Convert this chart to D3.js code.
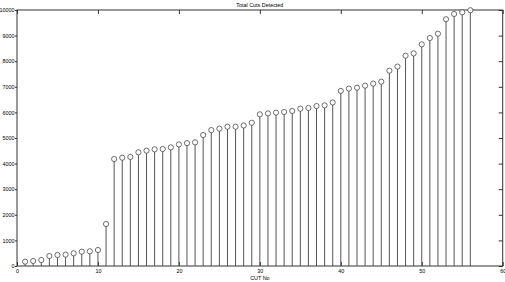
<!DOCTYPE html>
<html>
<head>
<meta charset="utf-8">
<script src="https://cdn.jsdelivr.net/npm/d3@7"></script>
<style>
  body { margin: 0; background: #fff; }
  text { font-family: "Liberation Sans", Arial, sans-serif; fill: #000; }
</style>
</head>
<body>
<div id="chart"></div>
<script>
// cut counts per cut number
const cutNo = d3.range(1, 57);
const cuts = [
  170, 195, 234, 390, 430, 443, 495, 560, 573, 625,
  1640, 4180, 4230, 4260, 4440, 4505, 4557, 4570, 4635, 4750,
  4800, 4830, 5117, 5310, 5365, 5440, 5440, 5490, 5595, 5925,
  5960, 5990, 6015, 6055, 6145, 6170, 6250, 6275, 6390, 6840,
  6930, 6965, 7045, 7125, 7200, 7630, 7790, 8215, 8305, 8660,
  8905, 9075, 9640, 9845, 9910, 9990
];
const xTicks = [0, 10, 20, 30, 40, 50, 60];
const yTicks = d3.range(0, 10001, 1000);

const W = 505, H = 282;
const margin = {top: 10, right: 2.3, bottom: 16, left: 17};
const width = W - margin.left - margin.right,
      height = H - margin.top - margin.bottom;

const svg = d3.select('#chart')
    .append('svg')
    .attr('width', W)
    .attr('height', H)
    .append('g')
    .attr('transform', `translate(${margin.left},${margin.top})`);

const x = d3.scaleLinear().domain([0, 60]).range([0, width]);
const y = d3.scaleLinear().domain([0, 10000]).range([height, 0]);

const axisColor = '#333';
const fs = 5.4;

// left axis: short outward ticks with labels
svg.append('g')
    .call(d3.axisLeft(y).tickValues(yTicks).tickSize(2).tickPadding(0.5).tickFormat(d3.format('d')))
    .call(g => g.selectAll('text').attr('font-size', fs))
    .call(g => g.select('.domain').remove())
    .call(g => g.selectAll('line').attr('stroke', axisColor));

// bottom axis labels
svg.append('g')
    .attr('transform', `translate(0, ${height})`)
    .call(d3.axisBottom(x).tickValues(xTicks).tickSize(-4).tickPadding(3).tickFormat(d3.format('d')))
    .call(g => g.selectAll('text').attr('font-size', fs))
    .call(g => g.select('.domain').remove())
    .call(g => g.selectAll('line').attr('stroke', axisColor));

// top axis: inner ticks only
svg.append('g')
    .call(d3.axisTop(x).tickValues(xTicks).tickSize(-4).tickFormat(''))
    .call(g => g.select('.domain').remove())
    .call(g => g.selectAll('line').attr('stroke', axisColor));

// right axis: inner ticks only
svg.append('g')
    .attr('transform', `translate(${width}, 0)`)
    .call(d3.axisRight(y).tickValues(yTicks).tickSize(-4).tickFormat(''))
    .call(g => g.select('.domain').remove())
    .call(g => g.selectAll('line').attr('stroke', axisColor));

// frame
svg.append('rect')
    .attr('width', width)
    .attr('height', height)
    .attr('fill', 'none')
    .attr('stroke', axisColor)
    .attr('stroke-width', 1);

// stems
svg.selectAll('.stem')
    .data(cuts)
    .join('line')
    .attr('class', 'stem')
    .attr('x1', (d, i) => x(cutNo[i]))
    .attr('x2', (d, i) => x(cutNo[i]))
    .attr('y1', y(0))
    .attr('y2', d => y(d))
    .attr('stroke', '#555')
    .attr('stroke-width', 1);

// markers
svg.selectAll('.mark')
    .data(cuts)
    .join('circle')
    .attr('class', 'mark')
    .attr('cx', (d, i) => x(cutNo[i]))
    .attr('cy', d => y(d))
    .attr('r', 2.6)
    .attr('fill', '#fff')
    .attr('stroke', '#333')
    .attr('stroke-width', 0.7);

// title and x label
svg.append('text')
    .attr('x', width / 2)
    .attr('y', -3)
    .attr('text-anchor', 'middle')
    .attr('font-size', fs)
    .text('Total Cuts Detected');

svg.append('text')
    .attr('x', width / 2)
    .attr('y', height + 14)
    .attr('text-anchor', 'middle')
    .attr('font-size', fs)
    .text('CUT No');
</script>
</body>
</html>
